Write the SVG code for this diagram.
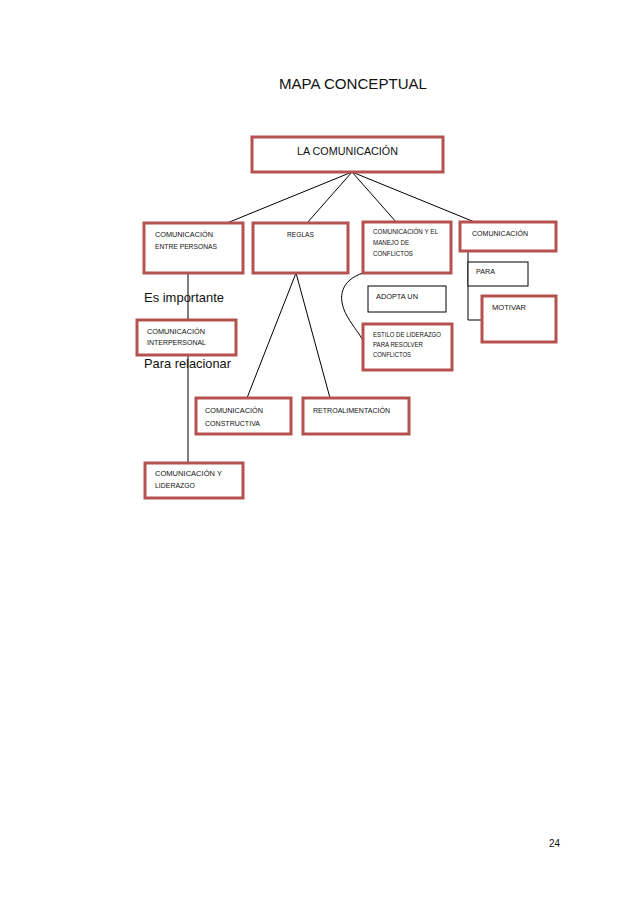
<svg xmlns="http://www.w3.org/2000/svg" width="638" height="903" viewBox="0 0 638 903">
<style>
.box{fill:#fff;stroke:#b5524f;stroke-width:3}
.tbox{fill:#fff;stroke:#000;stroke-width:1}
.ln{fill:none;stroke:#000;stroke-width:1}
text{font-family:"Liberation Sans",Arial,sans-serif;fill:#111}
.s{font-size:8px}
.xs{font-size:6.5px}
.big{font-size:13px}
</style>
<rect width="638" height="903" fill="#fff"/>
<text x="279" y="89" font-size="15" textLength="148" lengthAdjust="spacingAndGlyphs">MAPA CONCEPTUAL</text>
<text x="549" y="847" font-size="10">24</text>
<g id="connectors">
<line class="ln" x1="352" y1="172" x2="227" y2="223"/>
<line class="ln" x1="352" y1="172" x2="307" y2="223"/>
<line class="ln" x1="352" y1="172" x2="397" y2="223"/>
<line class="ln" x1="352" y1="172" x2="477" y2="223"/>
<line class="ln" x1="188" y1="273" x2="188" y2="320"/>
<line class="ln" x1="188" y1="355" x2="188" y2="463"/>
<line class="ln" x1="296" y1="273" x2="247" y2="398"/>
<line class="ln" x1="296" y1="273" x2="330" y2="398"/>
<path class="ln" d="M363,273 C342,280 336,296 347,316 C354,328 360,334 363,341"/>
<polyline class="ln" points="468,251 468,320 482,320"/>
</g>
<g id="n-la-comunicacion"><rect class="box" x="252" y="137" width="191" height="35"/><text x="297" y="155" font-size="11" textLength="101" lengthAdjust="spacingAndGlyphs">LA COMUNICACIÓN</text></g>
<g id="n-entre-personas"><rect class="box" x="144" y="223" width="99" height="50"/><text class="s" x="155" y="237" textLength="58" lengthAdjust="spacingAndGlyphs">COMUNICACIÓN</text><text class="s" x="155" y="249" textLength="62" lengthAdjust="spacingAndGlyphs">ENTRE PERSONAS</text></g>
<g id="n-reglas"><rect class="box" x="253" y="223" width="95" height="50"/><text class="s" x="287" y="237" textLength="27" lengthAdjust="spacingAndGlyphs">REGLAS</text></g>
<g id="n-manejo"><rect class="box" x="363" y="222" width="88" height="51"/><text class="xs" x="373" y="234" textLength="65" lengthAdjust="spacingAndGlyphs">COMUNICACIÓN Y EL</text><text class="xs" x="373" y="245" textLength="36" lengthAdjust="spacingAndGlyphs">MANEJO DE</text><text class="xs" x="373" y="256" textLength="40" lengthAdjust="spacingAndGlyphs">CONFLICTOS</text></g>
<g id="n-comunicacion-r"><rect class="box" x="460" y="222" width="96" height="29"/><text class="s" x="472" y="236" textLength="56" lengthAdjust="spacingAndGlyphs">COMUNICACIÓN</text></g>
<g id="n-para"><rect class="tbox" x="468" y="262" width="60" height="24"/><text class="s" x="476" y="274" textLength="19" lengthAdjust="spacingAndGlyphs">PARA</text></g>
<g id="n-motivar"><rect class="box" x="482" y="296" width="74" height="46"/><text class="s" x="492" y="310" textLength="34" lengthAdjust="spacingAndGlyphs">MOTIVAR</text></g>
<g id="n-adopta"><rect class="tbox" x="368" y="286" width="78" height="26"/><text class="s" x="376" y="299" textLength="42" lengthAdjust="spacingAndGlyphs">ADOPTA UN</text></g>
<g id="n-estilo"><rect class="box" x="363" y="324" width="89" height="46"/><text class="xs" x="373" y="337" textLength="68" lengthAdjust="spacingAndGlyphs">ESTILO DE LIDERAZGO</text><text class="xs" x="373" y="347" textLength="50" lengthAdjust="spacingAndGlyphs">PARA RESOLVER</text><text class="xs" x="373" y="357" textLength="38" lengthAdjust="spacingAndGlyphs">CONFLICTOS</text></g>
<g id="t-es-importante"><text class="big" x="144" y="302" textLength="80" lengthAdjust="spacingAndGlyphs">Es importante</text></g>
<g id="n-interpersonal"><rect class="box" x="137" y="320" width="99" height="35"/><text class="s" x="147" y="334" textLength="58" lengthAdjust="spacingAndGlyphs">COMUNICACIÓN</text><text class="s" x="147" y="345" textLength="59" lengthAdjust="spacingAndGlyphs">INTERPERSONAL</text></g>
<g id="t-para-relacionar"><text class="big" x="144" y="368" textLength="87" lengthAdjust="spacingAndGlyphs">Para relacionar</text></g>
<g id="n-constructiva"><rect class="box" x="196" y="398" width="95" height="36"/><text class="s" x="205" y="413" textLength="58" lengthAdjust="spacingAndGlyphs">COMUNICACIÓN</text><text class="s" x="205" y="426" textLength="55" lengthAdjust="spacingAndGlyphs">CONSTRUCTIVA</text></g>
<g id="n-retro"><rect class="box" x="303" y="398" width="106" height="36"/><text class="s" x="313" y="413" textLength="77" lengthAdjust="spacingAndGlyphs">RETROALIMENTACIÓN</text></g>
<g id="n-liderazgo"><rect class="box" x="145" y="463" width="98" height="35"/><text class="s" x="155" y="476" textLength="67" lengthAdjust="spacingAndGlyphs">COMUNICACIÓN  Y</text><text class="s" x="155" y="488" textLength="40" lengthAdjust="spacingAndGlyphs">LIDERAZGO</text></g>
</svg>
